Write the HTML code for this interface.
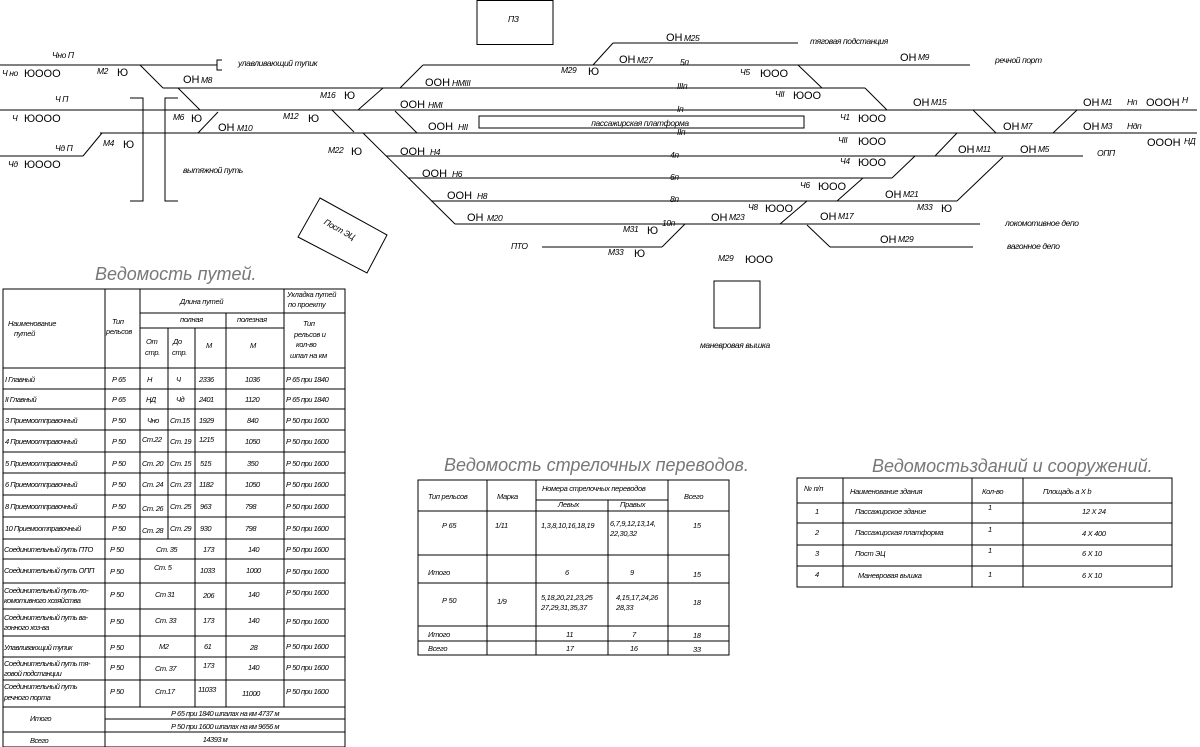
<!DOCTYPE html>
<html><head><meta charset="utf-8"><style>
html,body{margin:0;padding:0;background:#fff;}
svg{display:block;}
text{font-family:"Liberation Sans Narrow","Liberation Sans",sans-serif;font-style:italic;fill:#000;}
.s{font-size:8.5px;letter-spacing:-0.4px;}
.t{font-size:7.5px;letter-spacing:-0.3px;}
.m{font-size:11px;font-style:normal;letter-spacing:0;}
.ttl{font-size:18px;fill:#777;font-weight:normal;}
.tb{font-size:7.5px;letter-spacing:-0.5px;}
</style></head><body>
<svg width="1200" height="747" viewBox="0 0 1200 747" xmlns="http://www.w3.org/2000/svg">
<g stroke="#000" stroke-width="1" fill="none">
<line x1="0" y1="65" x2="217" y2="65"/>
<path d="M222 60 H217 V70 H222"/>
<line x1="140" y1="65" x2="163" y2="88"/>
<line x1="163" y1="88" x2="865" y2="88"/>
<line x1="865" y1="88" x2="887" y2="110"/>
<line x1="0" y1="110" x2="1197" y2="110"/>
<line x1="0" y1="156" x2="83" y2="156"/>
<line x1="83" y1="156" x2="102" y2="133"/>
<line x1="100" y1="133" x2="1197" y2="133"/>
<line x1="178" y1="88" x2="200" y2="110"/>
<line x1="198" y1="133" x2="218" y2="112"/>
<path d="M130 98 H143 V201 H130"/>
<path d="M178 98 H165 V201 H178"/>
<line x1="332" y1="110" x2="354" y2="132"/>
<line x1="358" y1="110" x2="383" y2="88"/>
<line x1="400" y1="88" x2="423" y2="65"/>
<line x1="423" y1="65" x2="970" y2="65"/>
<line x1="593" y1="65" x2="613" y2="43"/>
<line x1="613" y1="43" x2="798" y2="43"/>
<line x1="798" y1="65" x2="822" y2="88"/>
<line x1="395" y1="111" x2="417" y2="133"/>
<line x1="363" y1="133" x2="455" y2="224"/>
<line x1="386" y1="156" x2="1083" y2="156"/>
<line x1="408" y1="178" x2="892" y2="178"/>
<line x1="892" y1="178" x2="915" y2="156"/>
<line x1="431" y1="201" x2="957" y2="201"/>
<line x1="957" y1="201" x2="1003" y2="157"/>
<line x1="455" y1="224" x2="980" y2="224"/>
<line x1="780" y1="224" x2="807" y2="201"/>
<line x1="837" y1="201" x2="863" y2="178"/>
<line x1="935" y1="156" x2="957" y2="133"/>
<line x1="973" y1="110" x2="996" y2="133"/>
<line x1="1053" y1="133" x2="1077" y2="110"/>
<line x1="807" y1="225" x2="830" y2="247"/>
<line x1="830" y1="247" x2="973" y2="247"/>
<line x1="542" y1="247" x2="662" y2="247"/>
<line x1="662" y1="247" x2="685" y2="224"/>
<rect x="477" y="0.5" width="76" height="44"/>
<rect x="479" y="116" width="325" height="12"/>
<rect x="714" y="281" width="46" height="47"/>
<polygon points="320,198 387,235 367,273 298,237"/>
</g>
<g class="s">
<text x="52" y="58">Чно П</text>
<text x="2" y="76">Ч но</text><text x="24" y="77" class="m">ЮООО</text>
<text x="97" y="74">М2</text><text x="117" y="76" class="m">Ю</text>
<text x="238" y="66">улавливающий тупик</text>
<text x="183" y="83" class="m">ОН</text><text x="201" y="83">М8</text>
<text x="55" y="102">Ч П</text>
<text x="12" y="121">Ч</text><text x="24" y="122" class="m">ЮООО</text>
<text x="55" y="151">Чд П</text>
<text x="8" y="167">Чд</text><text x="24" y="168" class="m">ЮООО</text>
<text x="103" y="146">М4</text><text x="123" y="148" class="m">Ю</text>
<text x="173" y="120">М6</text><text x="191" y="122" class="m">Ю</text>
<text x="218" y="131" class="m">ОН</text><text x="237" y="131">М10</text>
<text x="183" y="173">вытяжной путь</text>
<text x="320" y="98">М16</text><text x="344" y="99" class="m">Ю</text>
<text x="283" y="119">М12</text><text x="308" y="122" class="m">Ю</text>
<text x="328" y="153">М22</text><text x="351" y="155" class="m">Ю</text>
<text x="425" y="86" class="m">ООН</text><text x="452" y="86">НМIII</text>
<text x="400" y="108" class="m">ООН</text><text x="428" y="108">НМI</text>
<text x="428" y="130" class="m">ООН</text><text x="458" y="130">НII</text>
<text x="400" y="155" class="m">ООН</text><text x="430" y="155">Н4</text>
<text x="422" y="177" class="m">ООН</text><text x="452" y="177">Н6</text>
<text x="447" y="199" class="m">ООН</text><text x="477" y="199">Н8</text>
<text x="467" y="221" class="m">ОН</text><text x="487" y="221">М20</text>
<text x="666" y="41" class="m">ОН</text><text x="684" y="41">М25</text>
<text x="619" y="63" class="m">ОН</text><text x="637" y="63">М27</text>
<text x="561" y="73">М29</text><text x="588" y="75" class="m">Ю</text>
<text x="680" y="65">5п</text>
<text x="740" y="75">Ч5</text><text x="760" y="77" class="m">ЮОО</text>
<text x="677" y="89">IIIп</text>
<text x="775" y="97">ЧII</text><text x="793" y="99" class="m">ЮОО</text>
<text x="677" y="112">Iп</text>
<text x="677" y="135">IIп</text>
<text x="670" y="158">4п</text>
<text x="670" y="180">6п</text>
<text x="670" y="202">8п</text>
<text x="662" y="226">10п</text>
<text x="640" y="126" text-anchor="middle">пассажирская платформа</text>
<text x="810" y="44">тяговая подстанция</text>
<text x="900" y="61" class="m">ОН</text><text x="918" y="60">М9</text>
<text x="995" y="63">речной порт</text>
<text x="913" y="106" class="m">ОН</text><text x="931" y="105">М15</text>
<text x="840" y="120">Ч1</text><text x="858" y="122" class="m">ЮОО</text>
<text x="838" y="143">ЧII</text><text x="858" y="145" class="m">ЮОО</text>
<text x="840" y="164">Ч4</text><text x="858" y="166" class="m">ЮОО</text>
<text x="800" y="188">Ч6</text><text x="818" y="190" class="m">ЮОО</text>
<text x="748" y="210">Ч8</text><text x="765" y="212" class="m">ЮОО</text>
<text x="1083" y="106" class="m">ОН</text><text x="1101" y="105">М1</text><text x="1127" y="105">Нп</text><text x="1146" y="106" class="m">ОООН</text><text x="1182" y="103">Н</text>
<text x="1003" y="130" class="m">ОН</text><text x="1021" y="129">М7</text>
<text x="1083" y="130" class="m">ОН</text><text x="1101" y="129">М3</text><text x="1127" y="129">Ндп</text>
<text x="1147" y="146" class="m">ОООН</text><text x="1184" y="144">НД</text>
<text x="958" y="153" class="m">ОН</text><text x="976" y="152">М11</text>
<text x="1020" y="153" class="m">ОН</text><text x="1038" y="152">М5</text>
<text x="1097" y="156">ОПП</text>
<text x="885" y="198" class="m">ОН</text><text x="903" y="197">М21</text>
<text x="917" y="210">М33</text><text x="941" y="212" class="m">Ю</text>
<text x="820" y="220" class="m">ОН</text><text x="838" y="219">М17</text>
<text x="880" y="243" class="m">ОН</text><text x="898" y="242">М29</text>
<text x="1005" y="226">локомотивное депо</text>
<text x="1007" y="249">вагонное депо</text>
<text x="711" y="221" class="m">ОН</text><text x="729" y="220">М23</text>
<text x="623" y="232">М31</text><text x="647" y="234" class="m">Ю</text>
<text x="608" y="255">М33</text><text x="634" y="257" class="m">Ю</text>
<text x="511" y="249">ПТО</text>
<text x="718" y="261">М29</text><text x="745" y="263" class="m">ЮОО</text>
<text x="700" y="348">маневровая вышка</text>
<text x="508" y="22">ПЗ</text>
<text x="320" y="228" transform="rotate(29 330 232)">Пост ЭЦ</text>
</g>
<text x="95" y="280" class="ttl">Ведомость путей.</text>
<text x="444" y="471" class="ttl">Ведомость стрелочных переводов.</text>
<text x="872" y="472" class="ttl">Ведомостьзданий и сооружений.</text>

<!-- Table 1 -->
<g stroke="#000" stroke-width="1" fill="none">
<rect x="3" y="289" width="342" height="458"/>
<line x1="105" y1="289" x2="105" y2="747"/>
<line x1="140" y1="289" x2="140" y2="707"/>
<line x1="284" y1="289" x2="284" y2="707"/>
<line x1="140" y1="313" x2="345" y2="313"/>
<line x1="140" y1="328" x2="284" y2="328"/>
<line x1="226" y1="313" x2="226" y2="707"/>
<line x1="195" y1="328" x2="195" y2="707"/>
<line x1="168" y1="328" x2="168" y2="539"/>
<line x1="3" y1="368" x2="345" y2="368"/>
<line x1="3" y1="389" x2="345" y2="389"/>
<line x1="3" y1="409" x2="345" y2="409"/>
<line x1="3" y1="430" x2="345" y2="430"/>
<line x1="3" y1="452" x2="345" y2="452"/>
<line x1="3" y1="473" x2="345" y2="473"/>
<line x1="3" y1="495" x2="345" y2="495"/>
<line x1="3" y1="517" x2="345" y2="517"/>
<line x1="3" y1="539" x2="345" y2="539"/>
<line x1="3" y1="559" x2="345" y2="559"/>
<line x1="3" y1="583" x2="345" y2="583"/>
<line x1="3" y1="609" x2="345" y2="609"/>
<line x1="3" y1="636" x2="345" y2="636"/>
<line x1="3" y1="657" x2="345" y2="657"/>
<line x1="3" y1="680" x2="345" y2="680"/>
<line x1="3" y1="707" x2="345" y2="707"/>
<line x1="105" y1="719" x2="345" y2="719"/>
<line x1="3" y1="732" x2="345" y2="732"/>
</g>
<g class="t">
<text x="8" y="326">Наименование</text><text x="14" y="336">путей</text>
<text x="112" y="324">Тип</text><text x="106" y="334">рельсов</text>
<text x="180" y="304">Длина путей</text>
<text x="287" y="297">Укладка путей</text><text x="288" y="307">по проекту</text>
<text x="180" y="322">полная</text><text x="237" y="322">полезная</text>
<text x="303" y="326">Тип</text><text x="294" y="337">рельсов и</text><text x="296" y="347">кол-во</text><text x="290" y="358">шпал на км</text>
<text x="146" y="344">От</text><text x="145" y="355">стр.</text>
<text x="173" y="344">До</text><text x="172" y="355">стр.</text>
<text x="206" y="348">М</text><text x="250" y="348">М</text>
</g>
<g class="tb">
<text x="5" y="382">I Главный</text><text x="112" y="382">Р 65</text><text x="147" y="382">Н</text><text x="176" y="382">Ч</text><text x="199" y="382">2336</text><text x="245" y="382">1036</text><text x="286" y="382">Р 65 при 1840</text>
<text x="5" y="402">II Главный</text><text x="112" y="402">Р 65</text><text x="146" y="402">НД</text><text x="176" y="402">Чд</text><text x="199" y="402">2401</text><text x="245" y="402">1120</text><text x="286" y="402">Р 65 при 1840</text>
<text x="5" y="423">3 Приемоотправочный</text><text x="112" y="423">Р 50</text><text x="147" y="423">Чно</text><text x="170" y="423">Ст.15</text><text x="199" y="423">1929</text><text x="247" y="423">840</text><text x="286" y="423">Р 50 при 1600</text>
<text x="5" y="444">4 Приемоотправочный</text><text x="112" y="444">Р 50</text><text x="142" y="442">Ст.22</text><text x="170" y="444">Ст. 19</text><text x="199" y="442">1215</text><text x="245" y="444">1050</text><text x="286" y="444">Р 50 при 1600</text>
<text x="5" y="466">5 Приемоотправочный</text><text x="112" y="466">Р 50</text><text x="142" y="466">Ст. 20</text><text x="170" y="466">Ст. 15</text><text x="200" y="466">515</text><text x="247" y="466">350</text><text x="286" y="466">Р 50 при 1600</text>
<text x="5" y="487">6 Приемоотправочный</text><text x="112" y="487">Р 50</text><text x="142" y="487">Ст. 24</text><text x="170" y="487">Ст. 23</text><text x="199" y="487">1182</text><text x="245" y="487">1050</text><text x="286" y="487">Р 50 при 1600</text>
<text x="5" y="509">8 Приемоотправочный</text><text x="112" y="509">Р 50</text><text x="142" y="511">Ст. 26</text><text x="170" y="509">Ст. 25</text><text x="200" y="509">963</text><text x="245" y="509">798</text><text x="286" y="509">Р 50 при 1600</text>
<text x="5" y="531">10 Приемоотправочный</text><text x="112" y="531">Р 50</text><text x="142" y="533">Ст. 28</text><text x="170" y="531">Ст. 29</text><text x="200" y="531">930</text><text x="245" y="531">798</text><text x="286" y="531">Р 50 при 1600</text>
<text x="4" y="552">Соединительный путь ПТО</text><text x="110" y="552">Р 50</text><text x="156" y="552">Ст. 35</text><text x="203" y="552">173</text><text x="248" y="552">140</text><text x="286" y="552">Р 50 при 1600</text>
<text x="4" y="573">Соединительный путь ОПП</text><text x="110" y="574">Р 50</text><text x="154" y="570">Ст. 5</text><text x="200" y="573">1033</text><text x="246" y="573">1000</text><text x="286" y="574">Р 50 при 1600</text>
<text x="4" y="593">Соединительный путь ло-</text><text x="4" y="603">комотивного хозяйства</text><text x="110" y="597">Р 50</text><text x="155" y="597">Ст 31</text><text x="203" y="598">206</text><text x="248" y="597">140</text><text x="286" y="595">Р 50 при 1600</text>
<text x="4" y="620">Соединительный путь ва-</text><text x="4" y="630">гонного хоз-ва</text><text x="110" y="624">Р 50</text><text x="155" y="623">Ст. 33</text><text x="203" y="623">173</text><text x="248" y="623">140</text><text x="286" y="624">Р 50 при 1600</text>
<text x="4" y="650">Улавливающий тупик</text><text x="110" y="650">Р 50</text><text x="159" y="649">М2</text><text x="204" y="649">61</text><text x="250" y="650">28</text><text x="286" y="649">Р 50 при 1600</text>
<text x="4" y="666">Соединительный путь тя-</text><text x="4" y="676">говой подстанции</text><text x="110" y="670">Р 50</text><text x="155" y="671">Ст. 37</text><text x="203" y="668">173</text><text x="248" y="670">140</text><text x="286" y="670">Р 50 при 1600</text>
<text x="4" y="689">Соединительный путь</text><text x="4" y="700">речного порта</text><text x="110" y="694">Р 50</text><text x="155" y="694">Ст.17</text><text x="198" y="692">11033</text><text x="242" y="696">11000</text><text x="286" y="694">Р 50 при 1600</text>
<text x="30" y="721">Итого</text>
<text x="225" y="716" text-anchor="middle">Р 65 при 1840 шпалах на км 4737 м</text>
<text x="225" y="729" text-anchor="middle">Р 50 при 1600 шпалах на км 9656 м</text>
<text x="30" y="743">Всего</text>
<text x="215" y="742" text-anchor="middle">14393 м</text>
</g>

<!-- Table 2 -->
<g stroke="#000" stroke-width="1" fill="none">
<rect x="418" y="480" width="311" height="175"/>
<line x1="487" y1="480" x2="487" y2="655"/>
<line x1="536" y1="480" x2="536" y2="655"/>
<line x1="608" y1="500" x2="608" y2="655"/>
<line x1="668" y1="480" x2="668" y2="655"/>
<line x1="536" y1="500" x2="668" y2="500"/>
<line x1="418" y1="511" x2="729" y2="511"/>
<line x1="418" y1="555" x2="729" y2="555"/>
<line x1="418" y1="583" x2="729" y2="583"/>
<line x1="418" y1="626" x2="729" y2="626"/>
<line x1="418" y1="641" x2="729" y2="641"/>
</g>
<g class="t">
<text x="428" y="499">Тип рельсов</text><text x="497" y="499">Марка</text>
<text x="542" y="491">Номера стрелочных переводов</text>
<text x="558" y="507">Левых</text><text x="620" y="507">Правых</text>
<text x="684" y="499">Всего</text>
<text x="442" y="528">Р 65</text><text x="495" y="528">1/11</text>
<text x="541" y="528">1,3,8,10,16,18,19</text><text x="610" y="526">6,7,9,12,13,14,</text><text x="610" y="536">22,30,32</text>
<text x="693" y="528">15</text>
<text x="428" y="575">Итого</text><text x="565" y="575">6</text><text x="630" y="575">9</text><text x="693" y="577">15</text>
<text x="442" y="603">Р 50</text><text x="497" y="604">1/9</text>
<text x="541" y="600">5,18,20,21,23,25</text><text x="541" y="610">27,29,31,35,37</text>
<text x="616" y="600">4,15,17,24,26</text><text x="616" y="610">28,33</text>
<text x="693" y="605">18</text>
<text x="428" y="637">Итого</text><text x="566" y="637">11</text><text x="632" y="637">7</text><text x="693" y="638">18</text>
<text x="428" y="651">Всего</text><text x="566" y="651">17</text><text x="630" y="651">16</text><text x="693" y="652">33</text>
</g>

<!-- Table 3 -->
<g stroke="#000" stroke-width="1" fill="none">
<rect x="797" y="478" width="375" height="109"/>
<line x1="843" y1="478" x2="843" y2="587"/>
<line x1="972" y1="478" x2="972" y2="587"/>
<line x1="1023" y1="478" x2="1023" y2="587"/>
<line x1="797" y1="503" x2="1172" y2="503"/>
<line x1="797" y1="523" x2="1172" y2="523"/>
<line x1="797" y1="545" x2="1172" y2="545"/>
<line x1="797" y1="566" x2="1172" y2="566"/>
</g>
<g class="t">
<text x="804" y="491">№ п/п</text><text x="850" y="494">Наименование здания</text><text x="982" y="494">Кол-во</text><text x="1043" y="494">Площадь   а Х b</text>
<text x="815" y="514">1</text><text x="855" y="514">Пассажирское здание</text><text x="988" y="510">1</text><text x="1082" y="514">12 Х 24</text>
<text x="815" y="535">2</text><text x="855" y="535">Пассажирская платформа</text><text x="988" y="532">1</text><text x="1082" y="536">4 Х 400</text>
<text x="815" y="556">3</text><text x="855" y="556">Пост ЭЦ</text><text x="988" y="553">1</text><text x="1082" y="556">6 Х 10</text>
<text x="815" y="577">4</text><text x="858" y="578">Маневровая вышка</text><text x="988" y="577">1</text><text x="1082" y="578">6 Х 10</text>
</g>
</svg>
</body></html>
